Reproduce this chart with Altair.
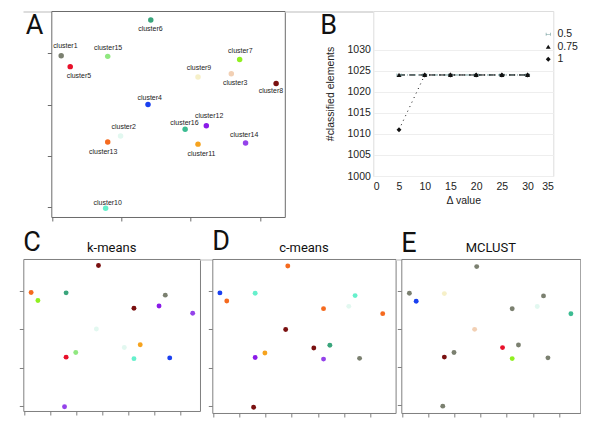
import altair as alt
import pandas as pd

# ---------------- data ----------------
clusters = ["cluster1", "cluster2", "cluster3", "cluster4", "cluster5", "cluster6",
            "cluster7", "cluster8", "cluster9", "cluster10", "cluster11", "cluster12",
            "cluster13", "cluster14", "cluster15", "cluster16"]
x_pos = [0.27, 1.98, 5.17, 2.77, 0.53, 2.85, 5.41, 6.46, 4.21, 1.55, 4.21, 4.45, 1.61, 5.58, 1.61, 3.84]
y_pos = [2.95, 1.39, 2.60, 2.00, 2.74, 3.65, 2.88, 2.41, 2.54, -0.02, 1.23, 1.59, 1.27, 1.25, 2.94, 1.52]
label_x = [0.39, 2.07, 5.28, 2.82, 0.78, 2.84, 5.43, 6.31, 4.24, 1.61, 4.31, 4.53, 1.48, 5.54, 1.62, 3.82]
label_y = [3.15, 1.56, 2.42, 2.13, 2.56, 3.47, 3.05, 2.26, 2.71, 0.09, 1.03, 1.77, 1.07, 1.41, 3.10, 1.65]

group_true = ["gray", "mint", "peach", "blue", "red", "teal", "lime", "darkred", "cream", "aqua",
              "amber", "purple", "orange", "violet", "lightgreen", "seagreen"]
group_kmeans = ["orange", "lightgreen", "purple", "mint", "lime", "darkred", "gray", "violet", "darkred",
                "violet", "aqua", "amber", "red", "blue", "teal", "mint"]
group_cmeans = ["blue", "amber", "mint", "darkred", "orange", "orange", "aqua", "orange", "orange",
                "darkred", "violet", "teal", "purple", "gray", "aqua", "darkred"]
group_mclust = ["gray", "gray", "mint", "peach", "blue", "gray", "gray", "seagreen", "gray", "gray",
                "lime", "gray", "darkred", "gray", "cream", "red"]

delta = [5, 10, 15, 20, 25, 30]
series_names = ["0.5", "0.75", "1"]
count_05 = [1024, 1024, 1024, 1024, 1024, 1024]
count_075 = [1024, 1024, 1024, 1024, 1024, 1024]
count_1 = [1011, 1024, 1024, 1024, 1024, 1024]

letters = ["A", "B", "C", "D", "E"]
methods = ["k-means", "c-means", "MCLUST"]

# ---------------- styles ----------------
palette_names = ["gray", "red", "lightgreen", "teal", "lime", "cream", "peach", "darkred", "blue",
                 "purple", "seagreen", "mint", "orange", "amber", "violet", "aqua"]
palette_hex = ["#7b8070", "#e8102a", "#90e880", "#3aa57c", "#90f020", "#f6f0c8", "#f2d0b4", "#7a1010",
               "#1a40f0", "#8a1ae8", "#3cbc92", "#e2f8f0", "#f56a1e", "#f6a31e", "#9442ea", "#66f0cc"]
cluster_fill = alt.Scale(domain=palette_names, range=palette_hex)

NARROW = "Roboto"
SANS = "Liberation Sans"
LETTER_SIZE = 27


def base_df(groups):
    return pd.DataFrame({"cluster": clusters, "x": x_pos, "y": y_pos,
                         "lx": label_x, "ly": label_y, "group": groups})


def scatter(groups, letter, xdom, ydom, w, h, letter_dx, letter_dy, box,
            title=None, labels=False, size=26):
    df = base_df(groups)
    xs = alt.Scale(domain=xdom, nice=False, zero=False)
    ys = alt.Scale(domain=ydom, nice=False, zero=False)
    xax = alt.Axis(values=[0, 1, 2, 3, 4, 5, 6], labels=False, title=None, grid=False,
                   domain=False, tickSize=4, tickColor=box, tickWidth=1)
    yax = alt.Axis(values=[0, 1, 2, 3], labels=False, title=None, grid=False,
                   domain=False, tickSize=4, tickColor=box, tickWidth=1)
    pts = alt.Chart(df).mark_circle(size=size, opacity=1).encode(
        x=alt.X("x:Q", scale=xs, axis=xax),
        y=alt.Y("y:Q", scale=ys, axis=yax),
        fill=alt.Fill("group:N", scale=cluster_fill, legend=None),
    )
    layers = [pts]
    if labels:
        txt = alt.Chart(df).mark_text(fontSize=7, font=SANS, color="#222222").encode(
            x=alt.X("lx:Q", scale=xs), y=alt.Y("ly:Q", scale=ys), text="cluster:N")
        layers.append(txt)
    let = alt.Chart(pd.DataFrame({"t": [letter]})).mark_text(
        fontSize=LETTER_SIZE, font=NARROW, align="left", baseline="alphabetic", color="#111111"
    ).encode(x=alt.value(letter_dx), y=alt.value(letter_dy), text="t:N")
    layers.append(let)
    if title:
        tt = alt.Chart(pd.DataFrame({"t": [title]})).mark_text(
            fontSize=13, font=NARROW, align="center", baseline="alphabetic", color="#111111"
        ).encode(x=alt.value(w / 2), y=alt.value(-6.5), text="t:N")
        layers.append(tt)
    return alt.layer(*layers).properties(width=w, height=h,
                                         view=alt.ViewBackground(stroke=box, strokeWidth=1))


def spacer(w):
    return alt.Chart(pd.DataFrame({"v": [0]})).mark_point(opacity=0, size=0).encode(
        x=alt.X("v:Q", axis=None), y=alt.Y("v:Q", axis=None)
    ).properties(width=w, height=1)


SP1, SP2, BW = 27.7, 87.5, 180

# ---------------- panel A ----------------
panel_a = scatter(group_true, letters[0], [-0.015, 6.71], [-0.19, 3.824], 233.5, 206,
                  -25.5, 23, "#6a6a6a", labels=True, size=30)

# ---------------- panel B ----------------
rows = []
for name, vals in zip(series_names, [count_05, count_075, count_1]):
    for d, v in zip(delta, vals):
        rows.append({"delta": d, "count": v, "series": name})
df_b = pd.DataFrame(rows)

bx = alt.X("delta:Q", scale=alt.Scale(domain=[0, 35], nice=False, zero=False),
           axis=alt.Axis(values=[0, 5, 10, 15, 20, 25, 30, 35], title="Δ value", grid=False,
                         ticks=False, domain=False, labelPadding=5, labelFontSize=10.5,
                         labelColor="#222222", titleFontSize=10.5, titleFontWeight="normal",
                         titleColor="#222222", titlePadding=4, labelFont=SANS, titleFont=SANS))
by = alt.Y("count:Q", scale=alt.Scale(domain=[1000, 1039.2], nice=False, zero=False),
           axis=alt.Axis(values=[1000, 1005, 1010, 1015, 1020, 1025, 1030], format="d",
                         title="#classified elements", grid=True, gridColor="#eeeeee",
                         ticks=False, domain=False, labelPadding=3, labelFontSize=10.5,
                         labelColor="#222222", titleFontSize=10.5, titleFontWeight="normal",
                         titleColor="#222222", titlePadding=11, labelFont=SANS, titleFont=SANS))
series_colors = alt.Scale(domain=series_names, range=["#6f9a9a", "#111111", "#111111"])
hbar = "M-1,-0.15H1V0.15H-1Z M-1,-0.6H-0.75V0.6H-1Z M0.75,-0.6H1V0.6H0.75Z"
leg = alt.Legend(orient="none", legendX=SP1 + 233.5 + SP2 + 171, legendY=18, title=None,
                 labelFontSize=10.5, labelFont=SANS, labelColor="#222222", rowPadding=1.5,
                 labelOffset=4, symbolSize=24, symbolStrokeWidth=0)

line_styles = {"0.5": ("#6f9a9a", [6, 2, 1, 2]), "0.75": ("#111111", [6, 4]), "1": ("#111111", [1, 4])}
line_layers = []
for name in series_names:
    col, dash = line_styles[name]
    line_layers.append(
        alt.Chart(df_b).transform_filter(alt.datum.series == name)
        .mark_line(strokeWidth=1, color=col, strokeDash=dash)
        .encode(x=bx, y=by)
    )
points_b = alt.Chart(df_b).mark_point(filled=True, size=24, opacity=1).encode(
    x=bx, y=by,
    color=alt.Color("series:N", scale=series_colors, legend=leg),
    shape=alt.Shape("series:N", scale=alt.Scale(domain=series_names,
                                                range=[hbar, "triangle-up", "diamond"]),
                    legend=leg),
)
letter_b = alt.Chart(pd.DataFrame({"t": [letters[1]]})).mark_text(
    fontSize=LETTER_SIZE, font=NARROW, align="left", baseline="alphabetic", color="#111111"
).encode(x=alt.value(-53), y=alt.value(23), text="t:N")
panel_b = alt.layer(*line_layers, points_b, letter_b).properties(width=BW, height=165)

# ---------------- panels C, D, E ----------------
panel_c = scatter(group_kmeans, letters[2], [-0.03, 6.74], [-0.13, 3.82], 176.7, 152,
                  0, -7.5, "#808080", title=methods[0], size=24)
panel_d = scatter(group_cmeans, letters[3], [-0.02, 6.95], [-0.17, 3.83], 183.3, 154,
                  0, -8.5, "#808080", title=methods[1], size=24)
panel_e = scatter(group_mclust, letters[4], [-0.04, 6.82], [-0.2, 3.85], 179, 154,
                  0, -7, "#808080", title=methods[2], size=24)

top = alt.hconcat(spacer(SP1), panel_a, spacer(SP2), panel_b, spacing=0, bounds="flush")
bottom = alt.hconcat(panel_c, spacer(11.7), panel_d, spacer(5), panel_e, spacing=0, bounds="flush")

chart = alt.vconcat(top, bottom, spacing=6).properties(
    padding={"left": 10.3, "top": 2, "right": 0, "bottom": 0}
).configure_view(stroke=None).configure(font=SANS)

chart.save("out.html", embed_options={"renderer": "svg", "actions": False})
